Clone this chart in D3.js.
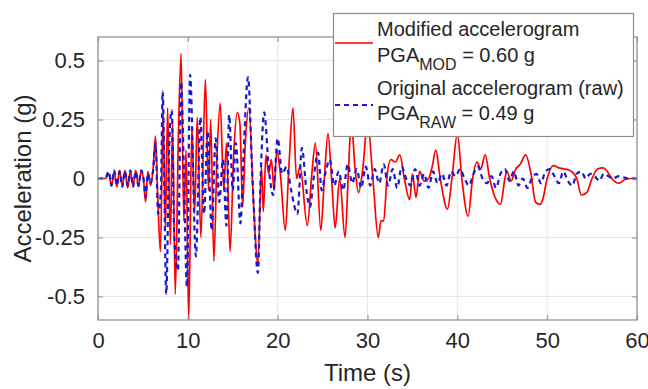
<!DOCTYPE html>
<html>
<head>
<meta charset="utf-8">
<script src="https://cdnjs.cloudflare.com/ajax/libs/d3/7.8.5/d3.min.js"></script>
<style>
body{margin:0;background:#fff;}
text{font-family:"Liberation Sans",Arial,Helvetica,sans-serif;fill:#262626;}
</style>
</head>
<body>
<div id="vis"></div>
<script>
// modified accelerogram (red) at peaks / troughs
var modTime = [0,0.8,1.2,1.5,1.8,2.1,2.4,2.7,3.0,3.3,3.6,3.9,4.2,4.5,4.8,5.05,5.3,5.55,5.85,6.15,
    6.4,6.65,6.95,7.25,7.5,7.75,8.05,8.3,8.6,8.95,9.25,9.55,9.8,10.1,10.45,10.75,11.05,11.45,11.95,12.3,
    12.55,12.9,13.25,13.6,14.0,14.3,14.7,15.1,15.5,15.8,16.1,16.4,16.8,17.3,17.8,18.2,18.4,18.7,19.0,19.3,
    19.6,19.9,20.3,20.85,21.25,21.7,22.1,22.5,23.3,23.8,24.2,24.8,25.2,25.6,26.0,26.4,26.9,27.5,27.9,28.2,
    28.6,29.0,29.5,30.0,30.6,31.2,31.5,31.8,32.2,32.6,33.1,33.6,34.1,34.7,35.0,35.4,35.8,36.3,36.8,37.2,
    37.6,38.1,38.9,39.4,40.0,40.5,41.2,41.7,42.2,42.6,43.1,43.6,44.2,44.8,45.3,45.5,46.0,46.5,47.0,47.6,
    48.2,48.7,49.2,49.5,50.0,50.7,51.3,52.0,52.7,53.3,53.8,54.4,55.0,55.6,56.2,56.7,57.2,58.0,58.6,59.3,60];
var modAcc = [0,0,0.02,-0.03,0.03,-0.035,0.035,-0.03,0.035,-0.04,0.03,-0.03,0.035,-0.035,0.03,0.0,-0.10,0.03,-0.03,0.05,
    0.18,-0.08,-0.31,0.29,-0.22,0.30,-0.28,0.24,-0.49,0.18,0.53,-0.18,0.12,-0.60,0.22,-0.15,0.26,-0.25,0.42,-0.05,
    0.25,-0.35,0.10,0.32,-0.05,0.15,-0.31,0.10,0.28,0.23,-0.12,0.15,0.30,-0.10,-0.36,0.05,-0.14,0.10,0.02,0.08,
    -0.05,0.12,0.02,-0.22,0.05,0.30,0.0,0.05,-0.20,0.02,0.15,-0.22,0.0,0.19,0.0,-0.21,0.0,-0.25,0.05,0.24,
    0.05,-0.06,0.05,0.24,0.0,-0.25,-0.18,-0.18,0.02,0.08,0.07,0.10,0.0,-0.09,0.02,-0.08,0.03,-0.01,0.0,0.05,
    0.12,0.0,-0.13,0.0,0.19,0.0,-0.16,0.0,0.07,0.04,0.10,0.0,-0.08,-0.11,0.0,0.03,-0.01,0.04,0.06,0.10,
    0.02,-0.10,-0.11,-0.09,0.0,0.055,0.045,0.04,0.03,0.0,-0.07,-0.06,0.0,0.04,0.045,0.03,0.0,-0.02,-0.005,0.0,0];

// original accelerogram (blue dashed)
var rawTime = [0,0.8,1.2,1.5,1.8,2.1,2.4,2.7,3.0,3.3,3.6,3.9,4.2,4.5,4.8,5.1,5.3,5.55,5.85,6.15,
    6.4,6.7,7.0,7.2,7.6,7.9,8.2,8.5,8.9,9.25,9.55,9.9,10.25,10.9,11.4,11.8,12.2,12.65,13.1,13.5,
    13.9,14.3,14.6,15.0,15.35,15.85,16.2,16.7,17.2,17.8,18.1,18.5,19.0,19.5,20.0,20.5,21.0,21.5,22.2,22.7,
    23.2,23.6,24.0,24.5,24.9,25.3,25.8,26.3,26.8,27.3,27.8,28.3,28.8,29.3,29.8,30.3,30.8,31.3,31.8,32.3,
    32.8,33.3,33.8,34.3,34.8,35.3,35.8,36.3,36.8,37.3,37.8,38.3,38.8,39.3,39.8,40.3,40.8,41.3,41.8,42.3,
    42.8,43.3,43.8,44.3,44.8,45.3,45.8,46.3,46.8,47.3,47.8,48.3,48.8,49.3,49.8,50.3,50.8,51.3,51.8,52.3,
    52.8,53.3,53.8,54.3,54.8,55.3,55.8,56.3,56.8,57.3,58.0,59.0,60];
var rawAcc = [0,0,0.03,-0.03,0.035,-0.03,0.03,-0.035,0.03,-0.03,0.035,-0.035,0.03,-0.03,0.035,-0.01,-0.08,0.02,-0.02,0.04,
    0.15,-0.15,-0.05,0.37,-0.49,0.10,0.29,-0.25,-0.39,0.41,0.05,-0.46,0.44,-0.33,0.26,-0.15,0.20,-0.22,0.17,-0.10,
    0.08,-0.20,0.27,-0.05,0.15,-0.19,0.10,0.43,0.0,-0.40,0.0,0.28,0.05,-0.07,0.17,0.02,0.05,-0.05,-0.15,0.13,
    -0.05,-0.12,0.0,0.11,-0.05,0.02,0.08,-0.03,0.03,-0.05,0.06,-0.02,0.04,-0.04,0.05,-0.03,0.04,-0.02,0.06,-0.03,
    0.04,-0.04,0.05,0.0,-0.03,0.04,-0.03,0.02,-0.04,0.03,-0.02,0.02,-0.03,0.03,0.01,0.04,0.0,-0.03,0.02,0.05,
    0.0,-0.02,0.01,-0.04,0.02,0.04,-0.01,0.03,-0.03,0.0,-0.04,0.0,0.02,-0.02,0.03,0.04,0.01,-0.02,0.03,-0.01,
    -0.03,0.02,0.03,0.0,0.02,0.01,-0.01,0.02,0.01,0.0,0.01,0.0,0];

var xTicks = [0,10,20,30,40,50,60];
var yTicks = [-0.5,-0.25,0,0.25,0.5];
var yTickLabels = ["-0.5","-0.25","0","0.25","0.5"];

var width = 648, height = 389,
    pL = 98, pR = 637, pT = 37, pB = 320;

var svg = d3.select("#vis").append("svg").attr("width", width).attr("height", height);

var x = d3.scaleLinear().domain([0, 60]).range([pL, pR]),
    y = d3.scaleLinear().domain([-0.6, 0.6]).range([pB, pT]);

// grid
svg.selectAll(".gx").data(xTicks).enter().append("line")
    .attr("x1", d => x(d)).attr("x2", d => x(d)).attr("y1", pT).attr("y2", pB)
    .attr("stroke", "#e6e6e6").attr("stroke-width", 1);
svg.selectAll(".gy").data(yTicks).enter().append("line")
    .attr("x1", pL).attr("x2", pR).attr("y1", d => y(d)).attr("y2", d => y(d))
    .attr("stroke", "#e6e6e6").attr("stroke-width", 1);

svg.append("clipPath").attr("id", "clip").append("rect")
    .attr("x", pL).attr("y", pT).attr("width", pR - pL).attr("height", pB - pT);

var line = d3.line().x(d => x(d[0])).y(d => y(d[1])).curve(d3.curveMonotoneX);
var modData = d3.zip(modTime, modAcc),
    rawData = d3.zip(rawTime, rawAcc);

svg.append("path").datum(modData).attr("d", line).attr("clip-path", "url(#clip)")
    .attr("fill", "none").attr("stroke", "#ff0000").attr("stroke-width", 1.7).attr("stroke-linejoin", "round");
svg.append("path").datum(rawData).attr("d", line).attr("clip-path", "url(#clip)")
    .attr("fill", "none").attr("stroke", "#1a1acc").attr("stroke-width", 2.2).attr("stroke-dasharray", "5,4");

// axes, ticks inside like matlab
var axCol = "#8c8c8c";
svg.append("g").attr("transform", "translate(0," + pB + ")")
    .call(d3.axisBottom(x).tickValues(xTicks).tickSizeInner(-5).tickSizeOuter(0).tickPadding(12))
    .call(g => { g.select(".domain").remove(); g.selectAll("line").attr("stroke", axCol);
        g.selectAll("text").attr("font-size", 22).attr("fill", "#262626").attr("font-family", null); });
svg.append("g").attr("transform", "translate(0," + pT + ")")
    .call(d3.axisTop(x).tickValues(xTicks).tickSizeInner(-5).tickSizeOuter(0).tickFormat(""))
    .call(g => { g.select(".domain").remove(); g.selectAll("line").attr("stroke", axCol); });
svg.append("g").attr("transform", "translate(" + pL + ",0)")
    .call(d3.axisLeft(y).tickValues(yTicks).tickFormat((d, i) => yTickLabels[i]).tickSizeInner(-5).tickSizeOuter(0).tickPadding(13))
    .call(g => { g.select(".domain").remove(); g.selectAll("line").attr("stroke", axCol);
        g.selectAll("text").attr("font-size", 22).attr("fill", "#262626").attr("font-family", null); });
svg.append("g").attr("transform", "translate(" + pR + ",0)")
    .call(d3.axisRight(y).tickValues(yTicks).tickSizeInner(-5).tickSizeOuter(0).tickFormat(""))
    .call(g => { g.select(".domain").remove(); g.selectAll("line").attr("stroke", axCol); });

svg.append("rect").attr("x", pL).attr("y", pT).attr("width", pR - pL).attr("height", pB - pT)
    .attr("fill", "none").attr("stroke", axCol).attr("stroke-width", 1.2);

svg.append("text").attr("x", (pL + pR) / 2).attr("y", 381).attr("text-anchor", "middle")
    .attr("font-size", 24).text("Time (s)");
svg.append("text").attr("transform", "translate(31," + ((pT + pB) / 2) + ") rotate(-90)")
    .attr("text-anchor", "middle").attr("font-size", 24).text("Acceleration (g)");

// legend
var lg = svg.append("g");
lg.append("rect").attr("x", 333.5).attr("y", 13.5).attr("width", 300).attr("height", 123)
    .attr("fill", "#fff").attr("stroke", axCol).attr("stroke-width", 1.2);
lg.append("line").attr("x1", 335).attr("x2", 373).attr("y1", 43).attr("y2", 43)
    .attr("stroke", "#ff0000").attr("stroke-width", 1.7);
lg.append("line").attr("x1", 335).attr("x2", 373).attr("y1", 105).attr("y2", 105)
    .attr("stroke", "#1a1acc").attr("stroke-width", 2.2).attr("stroke-dasharray", "5,4");

lg.append("text").attr("x", 377).attr("y", 36).attr("font-size", 20).attr("fill", "#1a1a1a").text("Modified accelerogram");
var t1 = lg.append("text").attr("x", 377).attr("y", 62).attr("font-size", 20).attr("fill", "#1a1a1a");
t1.append("tspan").text("PGA");
t1.append("tspan").attr("dy", 8).attr("font-size", 16).text("MOD");
t1.append("tspan").attr("dy", -8).text(" = 0.60 g");
lg.append("text").attr("x", 377).attr("y", 95).attr("font-size", 20).attr("fill", "#1a1a1a").text("Original accelerogram (raw)");
var t2 = lg.append("text").attr("x", 377).attr("y", 120).attr("font-size", 20).attr("fill", "#1a1a1a");
t2.append("tspan").text("PGA");
t2.append("tspan").attr("dy", 8).attr("font-size", 16).text("RAW");
t2.append("tspan").attr("dy", -8).text(" = 0.49 g");
</script>
</body>
</html>
